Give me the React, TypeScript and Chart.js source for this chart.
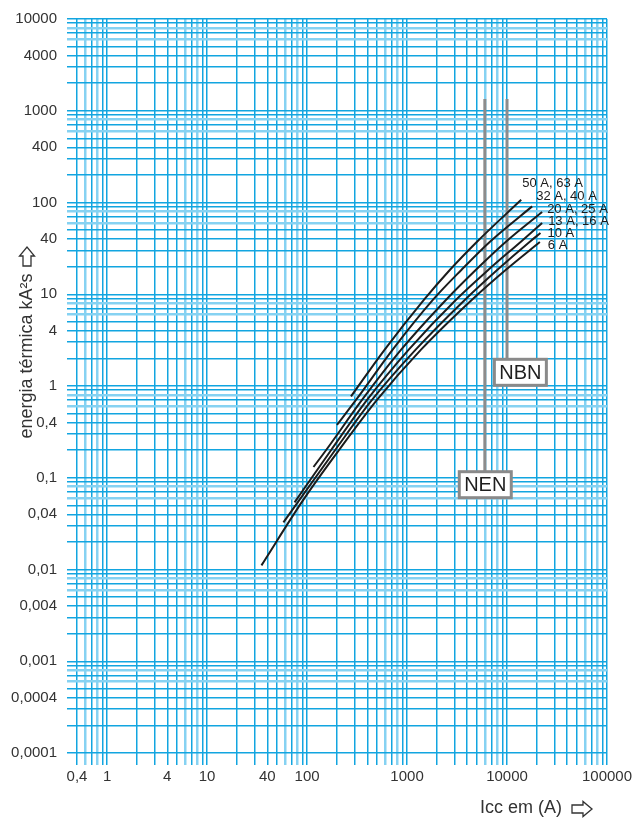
import React, { useEffect, useRef } from "react";
import { Chart, registerables } from "chart.js";

Chart.register(...registerables);

// ---------- data ----------
const xTickValues = [0.5, 1, 4, 10, 40, 100, 1000, 10000, 100000];
const xTickLabels = ["0,4", "1", "4", "10", "40", "100", "1000", "10000", "100000"];
const yTickValues = [10000, 4000, 1000, 400, 100, 40, 10, 4, 1, 0.4, 0.1, 0.04, 0.01, 0.004, 0.001, 0.0004, 0.0001];
const yTickLabels = ["10000", "4000", "1000", "400", "100", "40", "10", "4", "1", "0,4", "0,1", "0,04", "0,01", "0,004", "0,001", "0,0004", "0,0001"];

const seriesNames = ["6 A", "10 A", "13 A, 16 A", "20 A, 25 A", "32 A, 40 A", "50 A, 63 A"];

const icc6A = [35, 92, 210, 503, 1380, 4460, 9750, 21300];
const energy6A = [0.0111, 0.0577, 0.202, 0.709, 2.49, 8.72, 18.5, 37.1];

const icc10A = [58, 192, 448, 1220, 3800, 8020, 16900, 21600];
const energy10A = [0.0326, 0.202, 0.709, 2.49, 8.72, 18.5, 37.4, 46.5];

const icc13A16A = [75, 175, 400, 1040, 3090, 6520, 13760, 22450];
const energy13A16A = [0.0539, 0.202, 0.709, 2.49, 8.72, 18.5, 37.4, 59.8];

const icc20A25A = [116, 156, 356, 873, 2460, 4890, 9750, 22450];
const energy20A25A = [0.131, 0.202, 0.709, 2.49, 8.72, 18.5, 37.4, 78.8];

const icc32A40A = [199, 310, 718, 1820, 3510, 6750, 17840];
const energy32A40A = [0.376, 0.709, 2.49, 8.72, 18.5, 37.4, 90.7];

const icc50A63A = [275, 598, 1480, 2690, 5010, 13860];
const energy50A63A = [0.77, 2.49, 8.72, 18.5, 37.4, 107];

const seriesIcc = [icc6A, icc10A, icc13A16A, icc20A25A, icc32A40A, icc50A63A];
const seriesEnergy = [energy6A, energy10A, energy13A16A, energy20A25A, energy32A40A, energy50A63A];

// reference lines (NEN / NBN)
const refNames = ["NEN", "NBN"];
const refIcc = [6000, 10000];
const refTop = [1340, 1340];
const refBoxIcc = [6060, 13600];
const refBoxEnergy = [0.084, 1.41];

const yTitle = "energia térmica kA²s";
const xTitle = "Icc em (A)";

// ---------- style ----------
const FONT = '"Liberation Sans", Arial, Helvetica, sans-serif';
const TEXT = "#333333";
const labelOffsets = [
  [8, 3],
  [7, 0],
  [6, -2],
  [5, -3],
  [4, -10],
  [1, -16],
];

function gridValues(min: number, max: number) {
  const out: number[] = [];
  for (let e = -6; e <= 6; e++) {
    for (let m = 1; m <= 9; m++) {
      const v = parseFloat((m * Math.pow(10, e)).toPrecision(6));
      if (v >= min * 0.999999 && v <= max * 1.000001) out.push(v);
    }
  }
  return out;
}

function mant(v: number) {
  const e = Math.floor(Math.log10(v) + 1e-9);
  return Math.round(v / Math.pow(10, e));
}

function findLabel(values: number[], labels: string[], v: number) {
  for (let i = 0; i < values.length; i++) {
    if (Math.abs(Math.log10(values[i]) - Math.log10(v)) < 1e-6) return labels[i];
  }
  return "";
}

const DARK = "#12a5e0";
const LIGHT = "#86d2f2";
function gridColor(ctx: any) {
  const v = ctx.tick && ctx.tick.value;
  if (!v) return DARK;
  const m = mant(v);
  return m === 6 || m === 8 ? LIGHT : DARK;
}
function gridWidth(ctx: any) {
  const v = ctx.tick && ctx.tick.value;
  if (!v) return 1.5;
  const m = mant(v);
  return m === 6 || m === 8 ? 2.5 : 1.5;
}

// hollow arrow pointing right, drawn in local coords (tail at 0, tip at len)
function hollowArrow(ctx: CanvasRenderingContext2D, len: number) {
  const shaftH = 4;
  const headH = 7.5;
  const headL = 9;
  ctx.beginPath();
  ctx.moveTo(0, -shaftH);
  ctx.lineTo(len - headL, -shaftH);
  ctx.lineTo(len - headL, -headH);
  ctx.lineTo(len, 0);
  ctx.lineTo(len - headL, headH);
  ctx.lineTo(len - headL, shaftH);
  ctx.lineTo(0, shaftH);
  ctx.closePath();
  ctx.lineWidth = 1.3;
  ctx.strokeStyle = TEXT;
  ctx.stroke();
}

const overlayPlugin = {
  id: "overlay",
  afterDatasetsDraw(chart: any) {
    const ctx = chart.ctx;
    const xs = chart.scales.x;
    const ys = chart.scales.y;
    // curve labels
    ctx.save();
    ctx.font = `13px ${FONT}`;
    ctx.fillStyle = "#1a1a1a";
    ctx.textAlign = "left";
    ctx.textBaseline = "middle";
    for (let i = 0; i < seriesNames.length; i++) {
      const xs_ = seriesIcc[i];
      const ys_ = seriesEnergy[i];
      const px = xs.getPixelForValue(xs_[xs_.length - 1]);
      const py = ys.getPixelForValue(ys_[ys_.length - 1]);
      ctx.fillText(seriesNames[i], px + labelOffsets[i][0], py + labelOffsets[i][1]);
    }
    ctx.restore();
    // boxes
    ctx.save();
    for (let i = 0; i < refNames.length; i++) {
      const cx = xs.getPixelForValue(refBoxIcc[i]);
      const cy = ys.getPixelForValue(refBoxEnergy[i]);
      const w = 52, h = 26;
      ctx.fillStyle = "#ffffff";
      ctx.fillRect(cx - w / 2, cy - h / 2, w, h);
      ctx.lineWidth = 3;
      ctx.strokeStyle = "#8a8a8a";
      ctx.strokeRect(cx - w / 2, cy - h / 2, w, h);
      ctx.fillStyle = "#1e1e1e";
      ctx.font = `20px ${FONT}`;
      ctx.textAlign = "center";
      ctx.textBaseline = "middle";
      ctx.fillText(refNames[i], cx, cy + 1);
    }
    ctx.restore();
  },
  afterDraw(chart: any) {
    const ctx = chart.ctx;
    ctx.save();
    ctx.fillStyle = TEXT;
    ctx.font = `18px ${FONT}`;
    ctx.textBaseline = "middle";
    // y title
    ctx.save();
    ctx.translate(27, 356);
    ctx.rotate(-Math.PI / 2);
    ctx.textAlign = "center";
    ctx.fillText(yTitle, 0, 0);
    ctx.restore();
    ctx.save();
    ctx.translate(27, 266);
    ctx.rotate(-Math.PI / 2);
    hollowArrow(ctx, 19);
    ctx.restore();
    // x title
    ctx.textAlign = "left";
    ctx.fillText(xTitle, 480, 808);
    ctx.save();
    ctx.translate(572, 809);
    hollowArrow(ctx, 20);
    ctx.restore();
    ctx.restore();
  },
};

export default function App() {
  const ref = useRef<HTMLCanvasElement | null>(null);

  useEffect(() => {
    if (!ref.current) return;
    const datasets: any[] = [];
    for (let i = 0; i < seriesNames.length; i++) {
      datasets.push({
        label: seriesNames[i],
        data: seriesIcc[i].map((x, j) => ({ x, y: seriesEnergy[i][j] })),
        borderColor: "#1c1c1c",
        borderWidth: 2,
        pointRadius: 0,
        fill: false,
        cubicInterpolationMode: "monotone",
        order: 1,
      });
    }
    for (let i = 0; i < refNames.length; i++) {
      datasets.push({
        label: refNames[i],
        data: [
          { x: refIcc[i], y: refTop[i] },
          { x: refIcc[i], y: refBoxEnergy[i] },
        ],
        borderColor: "#8c8c8c",
        borderWidth: 3,
        pointRadius: 0,
        fill: false,
        order: 2,
      });
    }

    const chart = new Chart(ref.current, {
      type: "line",
      data: { datasets },
      plugins: [overlayPlugin],
      options: {
        animation: false,
        responsive: false,
        layout: { padding: { left: 0, right: 31, top: 19, bottom: 0 } },
        plugins: { legend: { display: false }, tooltip: { enabled: false } },
        elements: { line: { borderCapStyle: "butt" } },
        scales: {
          x: {
            type: "logarithmic",
            min: 0.5,
            max: 100000,
            afterBuildTicks: (scale: any) => {
              scale.ticks = gridValues(0.5, 100000).map((v) => ({ value: v }));
            },
            afterFit: (scale: any) => {
              scale.height = 73;
            },
            grid: { color: gridColor, lineWidth: gridWidth, tickLength: 12, drawTicks: true },
            border: { display: false },
            ticks: {
              autoSkip: false,
              maxRotation: 0,
              padding: 3,
              color: TEXT,
              font: { family: FONT, size: 15 },
              callback: (v: any) => findLabel(xTickValues, xTickLabels, Number(v)),
            },
          },
          y: {
            type: "logarithmic",
            min: 0.0001,
            max: 10000,
            afterBuildTicks: (scale: any) => {
              scale.ticks = gridValues(0.0001, 10000).map((v) => ({ value: v }));
            },
            afterFit: (scale: any) => {
              scale.width = 77;
            },
            grid: { color: gridColor, lineWidth: gridWidth, tickLength: 10, drawTicks: true },
            border: { display: false },
            ticks: {
              autoSkip: false,
              padding: 10,
              color: TEXT,
              font: { family: FONT, size: 15 },
              callback: (v: any) => findLabel(yTickValues, yTickLabels, Number(v)),
            },
          },
        },
      },
    } as any);
    return () => chart.destroy();
  }, []);

  return (
    <div style={{ position: "absolute", left: 0, top: 0, width: 638, height: 826, background: "#fff" }}>
      <canvas ref={ref} width={638} height={826} style={{ display: "block" }} />
    </div>
  );
}
